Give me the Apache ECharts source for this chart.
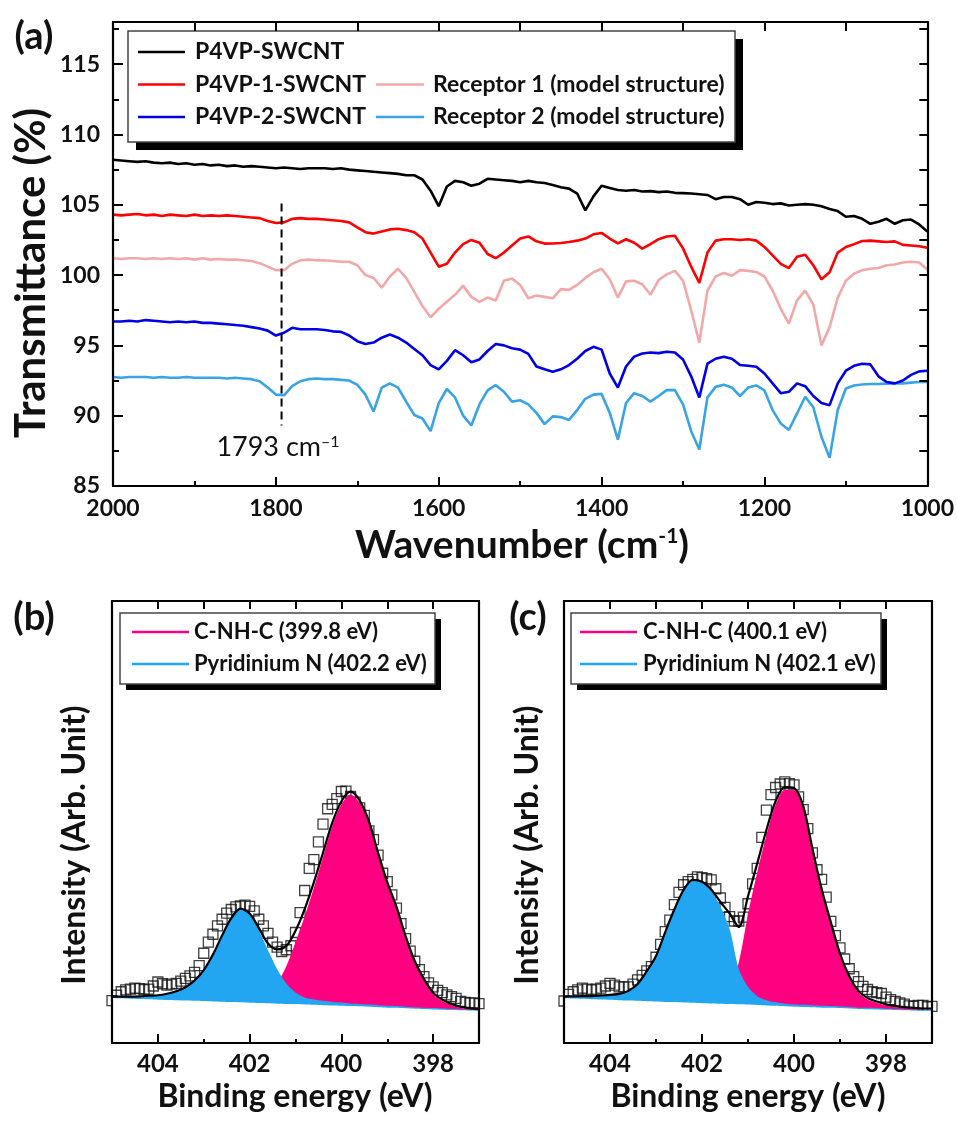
<!DOCTYPE html>
<html>
<head>
<meta charset="utf-8">
<script src="https://cdn.jsdelivr.net/npm/echarts@6.0.0/dist/echarts.min.js"></script>
<style>
  html, body { margin: 0; padding: 0; background: #fff; }
  #chart { width: 957px; height: 1121px; }
</style>
</head>
<body>
<div id="chart"></div>
<script>
// ---- (a) FTIR spectra, every 10 cm-1 ----
const wavenumber = [
  2000,1990,1980,1970,1960,1950,1940,1930,1920,1910,
  1900,1890,1880,1870,1860,1850,1840,1830,1820,1810,
  1800,1790,1780,1770,1760,1750,1740,1730,1720,1710,
  1700,1690,1680,1670,1660,1650,1640,1630,1620,1610,
  1600,1590,1580,1570,1560,1550,1540,1530,1520,1510,
  1500,1490,1480,1470,1460,1450,1440,1430,1420,1410,
  1400,1390,1380,1370,1360,1350,1340,1330,1320,1310,
  1300,1290,1280,1270,1260,1250,1240,1230,1220,1210,
  1200,1190,1180,1170,1160,1150,1140,1130,1120,1110,
  1100,1090,1080,1070,1060,1050,1040,1030,1020,1010,
  1000
];
const p4vp = [
  108.2,108.15,108.1,108.05,108.1,108.0,107.95,108.0,107.9,107.95,
  107.85,107.9,107.8,107.85,107.75,107.8,107.7,107.75,107.7,107.65,
  107.6,107.65,107.6,107.55,107.6,107.6,107.6,107.55,107.6,107.5,
  107.45,107.4,107.35,107.3,107.25,107.2,107.1,107.1,106.8,106.0,
  104.9,106.3,106.7,106.6,106.35,106.5,106.85,106.8,106.75,106.7,
  106.6,106.7,106.6,106.55,106.4,106.25,106.15,105.8,104.6,105.6,
  106.35,106.2,106.05,106.0,106.05,105.95,105.97,105.9,105.95,105.85,
  105.83,105.8,105.75,105.7,105.4,105.55,105.55,105.4,105.0,105.2,
  105.15,105.05,105.1,104.95,105.0,105.05,105.0,104.9,104.7,104.55,
  104.15,104.2,104.0,103.65,103.8,104.0,103.65,103.9,103.95,103.6,
  103.1
];
const p4vp1 = [
  104.3,104.25,104.3,104.35,104.25,104.3,104.2,104.3,104.25,104.2,
  104.3,104.2,104.25,104.2,104.25,104.2,104.15,104.1,104.05,103.85,
  103.7,103.75,104.0,104.05,104.0,104.0,103.95,103.9,103.85,103.75,
  103.4,103.05,102.95,103.1,103.25,103.3,103.2,103.05,102.6,101.6,
  100.6,100.8,101.6,102.2,102.5,102.3,101.5,101.2,101.6,102.1,
  102.6,102.75,102.4,102.24,102.25,102.28,102.35,102.45,102.6,102.9,
  103.0,102.6,102.25,102.55,102.3,101.88,102.2,102.55,102.75,102.8,
  101.9,100.6,99.45,101.6,102.45,102.55,102.55,102.5,102.55,102.45,
  102.0,101.4,100.8,100.5,101.3,101.45,100.7,99.7,100.2,101.6,
  102.0,102.2,102.42,102.45,102.4,102.35,102.4,102.15,102.1,102.05,
  101.95
];
const receptor1 = [
  101.2,101.15,101.2,101.2,101.15,101.2,101.15,101.2,101.15,101.2,
  101.1,101.2,101.1,101.15,101.1,101.1,101.05,101.0,100.85,100.6,
  100.35,100.35,100.8,101.05,101.1,101.05,101.05,101.0,100.95,100.95,
  100.7,100.0,99.8,99.1,99.9,100.45,99.8,98.8,97.8,97.0,
  97.6,98.1,98.6,99.25,98.45,98.1,98.4,98.2,99.6,99.75,
  99.3,98.35,98.55,98.45,98.35,99.0,98.95,99.3,99.8,100.2,
  100.45,99.7,98.4,99.55,99.6,99.35,98.6,99.65,100.05,100.3,
  99.6,97.5,95.2,98.9,99.9,100.15,99.95,100.35,100.3,100.22,
  99.9,98.9,97.6,96.55,98.2,98.9,97.9,95.0,96.3,98.4,
  99.6,100.1,100.35,100.45,100.5,100.7,100.75,100.9,100.95,100.9,
  100.4
];
const p4vp2 = [
  96.7,96.7,96.75,96.7,96.8,96.75,96.7,96.65,96.7,96.65,
  96.7,96.6,96.6,96.55,96.5,96.45,96.4,96.3,96.2,96.05,
  95.7,95.9,96.25,96.15,96.15,96.15,96.1,96.0,95.96,95.7,
  95.3,95.1,95.2,95.55,95.77,95.55,95.2,94.75,94.3,93.6,
  93.3,93.9,94.66,94.3,93.8,94.0,94.6,95.1,95.0,94.8,
  94.7,94.4,93.5,93.3,93.12,93.3,93.6,94.05,94.6,94.9,
  94.7,93.0,92.0,93.5,94.2,94.42,94.5,94.45,94.55,94.5,
  94.0,92.8,91.3,93.7,94.05,94.2,94.05,93.6,93.55,93.48,
  93.0,92.3,91.6,91.7,92.3,92.1,91.4,90.9,90.75,92.3,
  93.2,93.55,93.7,93.65,92.8,92.4,92.3,92.5,92.9,93.15,
  93.2
];
const receptor2 = [
  92.75,92.7,92.75,92.75,92.75,92.7,92.75,92.7,92.7,92.75,
  92.7,92.7,92.7,92.7,92.65,92.7,92.65,92.6,92.45,92.0,
  91.5,91.45,92.1,92.45,92.6,92.65,92.6,92.6,92.55,92.5,
  92.2,91.5,90.3,92.0,92.3,92.0,91.0,90.05,89.8,88.9,
  90.9,91.9,91.3,90.0,89.3,90.8,91.8,92.17,91.7,91.0,
  91.1,90.8,90.2,89.4,89.95,89.9,89.7,90.4,91.2,91.5,
  91.55,90.2,88.3,90.9,91.6,91.4,91.0,91.4,91.82,91.82,
  90.8,88.9,87.6,91.3,92.05,92.2,92.0,91.4,92.0,92.15,
  91.8,90.4,89.45,88.98,90.16,91.35,90.6,88.5,87.0,90.4,
  91.94,92.15,92.22,92.25,92.25,92.28,92.3,92.3,92.35,92.4,
  92.4
];
const markWavenumber = 1793;
const markRange = [105.1, 89.3];

// ---- (b), (c) XPS N1s, intensity in arbitrary units (0-100 of frame) ----
const fitEnergy = [
  405,404.8,404.6,404.4,404.2,404,403.8,403.6,403.4,403.2,
  403,402.8,402.6,402.4,402.2,402,401.8,401.6,401.4,401.2,
  401,400.8,400.6,400.4,400.2,400,399.8,399.6,399.4,399.2,
  399,398.8,398.6,398.4,398.2,398,397.8,397.6,397.4,397.2,
  397
];
const dataEnergy = [
  405,404.9,404.8,404.7,404.6,404.5,404.4,404.3,404.2,404.1,
  404,403.9,403.8,403.7,403.6,403.5,403.4,403.3,403.2,403.1,
  403,402.9,402.8,402.7,402.6,402.5,402.4,402.3,402.2,402.1,
  402,401.9,401.8,401.7,401.6,401.5,401.4,401.3,401.2,401.1,
  401,400.9,400.8,400.7,400.6,400.5,400.4,400.3,400.2,400.1,
  400,399.9,399.8,399.7,399.6,399.5,399.4,399.3,399.2,399.1,
  399,398.9,398.8,398.7,398.6,398.5,398.4,398.3,398.2,398.1,
  398,397.9,397.8,397.7,397.6,397.5,397.4,397.3,397.2,397.1,
  397
];
const bBaseline = [
  10.2,10.1,10.0,9.95,9.9,9.8,9.75,9.7,9.6,9.55,
  9.5,9.4,9.35,9.25,9.2,9.1,9.05,9.0,8.9,8.85,
  8.8,8.7,8.65,8.55,8.5,8.45,8.35,8.3,8.2,8.1,
  8.0,7.95,7.85,7.75,7.7,7.6,7.55,7.45,7.4,7.35,
  7.3
];
const bPyridinium = [
  0.3,0.4,0.5,0.6,0.8,1.0,1.4,2.0,3.0,4.6,
  7.0,10.6,15.0,19.0,21.2,20.0,16.5,12.0,7.8,4.6,
  2.6,1.6,1.2,1.0,0.8,0.7,0.6,0.55,0.5,0.45,
  0.4,0.4,0.35,0.3,0.3,0.3,0.25,0.25,0.2,0.2,
  0.2
];
const bCNHC = [
  0,0,0,0,0,0,0,0,0,0,
  0,0,0,0,0,0.2,0.5,1.5,4.5,8.5,
  14.0,20.0,26.5,33.5,40.5,45.5,47.9,46.0,41.5,34.5,
  28.0,22.5,16.0,10.5,6.5,3.5,2.0,1.1,0.6,0.3,
  0.2
];
const bMeasured = [
  9.6,10.8,11.6,12.0,12.2,12.4,12.3,12.1,12.2,12.9,
  13.8,13.4,13.1,13.3,13.5,14.0,14.6,15.2,16.0,17.5,
  20.3,22.8,24.6,26.5,28.0,29.4,30.2,30.8,31.0,31.2,
  30.9,29.9,28.0,26.5,24.8,22.8,21.7,20.7,21.1,22.0,
  25.0,29.5,34.5,39.5,41.5,45.5,49.5,53.0,54.0,55.3,
  56.9,57.0,55.8,54.5,53.2,51.5,48.0,46.0,42.5,38.4,
  36.5,33.5,30.5,27.0,23.6,20.8,18.5,16.6,15.0,13.6,
  12.7,11.9,11.4,10.9,10.5,10.1,9.4,9.2,9.0,9.1,
  8.9
];
const cBaseline = [
  10.1,10.05,10.0,9.9,9.85,9.8,9.7,9.6,9.55,9.45,
  9.4,9.3,9.25,9.15,9.1,9.0,8.95,8.9,8.8,8.75,
  8.7,8.6,8.5,8.4,8.3,8.2,8.15,8.1,8.0,7.95,
  7.9,7.8,7.7,7.65,7.6,7.5,7.45,7.4,7.35,7.3,
  7.3
];
const cPyridinium = [
  0.4,0.5,0.6,0.7,0.9,1.1,1.4,2.2,3.8,6.8,
  10.3,15.8,21.0,25.5,27.8,27.5,25.5,22.0,17.0,8.0,
  4.0,2.0,1.2,0.8,0.6,0.5,0.5,0.45,0.4,0.4,
  0.35,0.35,0.3,0.3,0.3,0.25,0.25,0.2,0.2,0.2,
  0.2
];
const cCNHC = [
  0,0,0,0,0,0,0,0,0,0,
  0,0,0,0,0,0,0.3,1.0,3.5,9.5,
  20.5,30.0,38.5,45.5,49.0,49.0,45.0,35.5,26.5,19.0,
  12.0,7.0,3.8,2.2,1.5,1.0,0.7,0.5,0.4,0.3,
  0.3
];
const cMeasured = [
  9.5,11.0,11.6,12.0,12.4,12.2,12.0,12.2,12.4,12.9,
  13.5,13.1,12.7,12.7,12.7,13.3,14.3,15.3,16.3,17.3,
  19.4,22.3,25.2,27.8,31.3,34.1,35.8,36.5,37.0,37.6,
  37.4,37.2,36.9,34.9,32.8,30.7,28.6,27.6,27.6,28.5,
  31.5,36.0,39.5,46.5,52.7,56.2,57.8,58.6,59.1,58.7,
  58.4,55.7,52.8,48.5,43.0,39.2,37.0,33.0,27.5,24.3,
  21.5,19.0,16.8,15.0,13.9,12.8,12.1,11.6,11.4,11.2,
  10.4,9.8,9.4,9.1,8.8,8.4,8.3,8.5,8.5,8.2,
  8.3
];
const xpsMajorTicks = [398, 400, 402, 404];

// ---- styling ----
const FONT = 'Lato';
const PINK = '#ff0080';
const SKY = '#22a6f2';
const ftirColors = {
  'P4VP-SWCNT': '#000000',
  'P4VP-1-SWCNT': '#ff0000',
  'P4VP-2-SWCNT': '#0000e6',
  'Receptor 1 (model structure)': '#f2a8a8',
  'Receptor 2 (model structure)': '#38a4e6'
};

const pairs = (xs, ys) => xs.map((x, i) => [x, ys[i]]);
const addArr = (...arrs) => arrs[0].map((_, i) => arrs.reduce((s, a) => s + a[i], 0));

const frame = { show: true, onZero: false, lineStyle: { color: '#000', width: 2.2 } };
const tickStyle = { color: '#000', width: 2 };
const labelStyle = (size) => ({ fontFamily: FONT, fontWeight: 'bold', fontSize: size, color: '#111', formatter: (v) => String(v) });

function plainAxis(extra) {
  return Object.assign({
    type: 'value', z: 10, splitLine: { show: false },
    axisLine: frame, axisLabel: { show: false }, axisTick: { show: false }
  }, extra);
}

const xAxis = [
  // (a)
  plainAxis({ gridIndex: 0, position: 'bottom', min: 1000, max: 2000, interval: 200, inverse: true,
    axisTick: { show: true, inside: true, length: 9, lineStyle: tickStyle },
    minorTick: { show: true, splitNumber: 2, length: 5, lineStyle: tickStyle },
    axisLabel: Object.assign({ show: true, margin: 11 }, labelStyle(23)) }),
  plainAxis({ gridIndex: 0, position: 'top', min: 1000, max: 2000, interval: 100, inverse: true,
    axisTick: { show: true, inside: true, length: 9, lineStyle: tickStyle } }),
  // (b)
  plainAxis({ gridIndex: 1, position: 'bottom', min: 397, max: 405, interval: 1, inverse: true,
    axisTick: { show: true, inside: true, length: 9, lineStyle: tickStyle, customValues: xpsMajorTicks },
    axisLabel: Object.assign({ show: true, margin: 9, customValues: xpsMajorTicks }, labelStyle(24)) }),
  plainAxis({ gridIndex: 1, position: 'bottom', min: 397, max: 405, interval: 1, inverse: true,
    axisLine: { show: false },
    axisTick: { show: true, inside: true, length: 4, lineStyle: tickStyle } }),
  plainAxis({ gridIndex: 1, position: 'top', min: 397, max: 405, interval: 1, inverse: true,
    axisTick: { show: true, inside: true, length: 8, lineStyle: tickStyle } }),
  // (c)
  plainAxis({ gridIndex: 2, position: 'bottom', min: 397, max: 405, interval: 1, inverse: true,
    axisTick: { show: true, inside: true, length: 9, lineStyle: tickStyle, customValues: xpsMajorTicks },
    axisLabel: Object.assign({ show: true, margin: 9, customValues: xpsMajorTicks }, labelStyle(24)) }),
  plainAxis({ gridIndex: 2, position: 'bottom', min: 397, max: 405, interval: 1, inverse: true,
    axisLine: { show: false },
    axisTick: { show: true, inside: true, length: 4, lineStyle: tickStyle } }),
  plainAxis({ gridIndex: 2, position: 'top', min: 397, max: 405, interval: 1, inverse: true,
    axisTick: { show: true, inside: true, length: 8, lineStyle: tickStyle } })
];

const yAxis = [
  plainAxis({ gridIndex: 0, position: 'left', min: 85, max: 118, interval: 5,
    axisTick: { show: true, inside: true, length: 10, lineStyle: tickStyle },
    axisLabel: Object.assign({ show: true, margin: 13, showMaxLabel: false }, labelStyle(23)) }),
  plainAxis({ gridIndex: 0, position: 'left', min: 85, max: 118, interval: 2.5,
    axisLine: { show: false },
    axisTick: { show: true, inside: true, length: 6, lineStyle: tickStyle } }),
  plainAxis({ gridIndex: 0, position: 'right', min: 85, max: 118, interval: 2.5,
    axisTick: { show: true, inside: true, length: 8, lineStyle: tickStyle } }),
  plainAxis({ gridIndex: 1, position: 'left', min: 0, max: 100 }),
  plainAxis({ gridIndex: 1, position: 'right', min: 0, max: 100 }),
  plainAxis({ gridIndex: 2, position: 'left', min: 0, max: 100 }),
  plainAxis({ gridIndex: 2, position: 'right', min: 0, max: 100 })
];

function ftirLine(name, values) {
  return {
    name, type: 'line', xAxisIndex: 0, yAxisIndex: 0,
    data: pairs(wavenumber, values), symbol: 'none', silent: true,
    color: ftirColors[name], lineStyle: { width: 2.6, color: ftirColors[name] }
  };
}

function xpsSeries(xi, yi, measured, base, blue, pink, pinkName, blueName) {
  const fill = (name, vals, color) => ({
    name, type: 'line', xAxisIndex: xi, yAxisIndex: yi, silent: true,
    data: pairs(fitEnergy, vals), smooth: 0.3, symbol: 'none', color,
    lineStyle: { width: 0, color }, areaStyle: { color, opacity: 1, origin: 'start' }, z: 3
  });
  return [
    { type: 'scatter', xAxisIndex: xi, yAxisIndex: yi, silent: true,
      data: pairs(dataEnergy, measured), symbol: 'rect', symbolSize: 10,
      itemStyle: { color: 'rgba(255,255,255,0)', borderColor: '#111', borderWidth: 1.3 }, z: 2 },
    fill(pinkName, addArr(base, pink), PINK),
    fill(blueName, addArr(base, blue), SKY),
    fill('baseline', base, '#ffffff'),
    { type: 'line', xAxisIndex: xi, yAxisIndex: yi, silent: true,
      data: pairs(fitEnergy, addArr(base, blue, pink)), smooth: 0.3, symbol: 'none',
      lineStyle: { color: '#000', width: 2.2 }, z: 4 }
  ];
}

const series = [
  ftirLine('Receptor 2 (model structure)', receptor2),
  ftirLine('Receptor 1 (model structure)', receptor1),
  ftirLine('P4VP-2-SWCNT', p4vp2),
  ftirLine('P4VP-1-SWCNT', p4vp1),
  ftirLine('P4VP-SWCNT', p4vp),
  { type: 'line', xAxisIndex: 0, yAxisIndex: 0, silent: true, symbol: 'none',
    data: markRange.map(v => [markWavenumber, v]),
    lineStyle: { color: '#000', width: 2, type: [8, 5] } },
  ...xpsSeries(2, 3, bMeasured, bBaseline, bPyridinium, bCNHC, 'C-NH-C (399.8 eV)', 'Pyridinium N (402.2 eV)'),
  ...xpsSeries(5, 5, cMeasured, cBaseline, cPyridinium, cCNHC, 'C-NH-C (400.1 eV)', 'Pyridinium N (402.1 eV)')
];

function legendAt(left, top, names, width, size, rowH, gapText) {
  return {
    data: names, orient: 'vertical', left, top, padding: 0,
    itemWidth: width, itemHeight: 2.5, itemGap: rowH - (size + 4), icon: 'rect', selectedMode: false,
    textStyle: { fontFamily: FONT, fontWeight: 'bold', fontSize: size, color: '#111',
      lineHeight: size + 4, padding: [0, 0, 0, gapText] }
  };
}

function boxWithShadow(x, y, w, h, off) {
  return [
    { type: 'rect', z: 1, shape: { x: x + off, y: y + off, width: w, height: h }, style: { fill: '#000' } },
    { type: 'rect', z: 2, shape: { x, y, width: w, height: h }, style: { fill: '#fff', stroke: '#444', lineWidth: 1.5 } }
  ];
}

function label(text, x, y, size, opts) {
  return Object.assign({
    type: 'text', x, y, z: 20,
    style: { text, fontFamily: FONT, fontWeight: 'bold', fontSize: size, fill: '#111', align: 'center', verticalAlign: 'middle' }
  }, opts || {});
}

const graphic = [
  ...boxWithShadow(128, 31, 607, 111, 8),
  ...boxWithShadow(120, 613, 315, 71, 6),
  ...boxWithShadow(571, 613, 310, 71, 6),
  label('(a)', 34, 37, 38),
  label('(b)', 34, 618, 38),
  label('(c)', 528, 618, 38),
  label('Transmittance (%)', 31, 273, 42, { rotation: Math.PI / 2 }),
  {
    type: 'text', x: 522, y: 545, z: 20,
    style: {
      text: '{t|Wavenumber (cm}{s|-1}{t|)}', align: 'center', verticalAlign: 'middle',
      rich: {
        t: { fontFamily: FONT, fontWeight: 'bold', fontSize: 39, fill: '#111' },
        s: { fontFamily: FONT, fontWeight: 'bold', fontSize: 21, fill: '#111', verticalAlign: 'top' }
      }
    }
  },
  {
    type: 'text', x: 278, y: 447, z: 20,
    style: {
      text: '{t|1793 cm}{s|\u20131}', align: 'center', verticalAlign: 'middle',
      rich: {
        t: { fontFamily: FONT, fontSize: 27, fill: '#111' },
        s: { fontFamily: FONT, fontSize: 16, fill: '#111', verticalAlign: 'top' }
      }
    }
  },
  label('Intensity (Arb. Unit)', 75, 845, 32, { rotation: Math.PI / 2 }),
  label('Intensity (Arb. Unit)', 528, 845, 32, { rotation: Math.PI / 2 }),
  label('Binding energy (eV)', 295, 1097, 32),
  label('Binding energy (eV)', 748, 1097, 32)
];

const chart = echarts.init(document.getElementById('chart'));
chart.setOption({
  animation: false,
  backgroundColor: '#fff',
  grid: [
    { left: 113, top: 22, width: 817, height: 464 },
    { left: 112, top: 601, width: 367, height: 442 },
    { left: 564, top: 601, width: 368, height: 442 }
  ],
  xAxis, yAxis, series, graphic,
  legend: [
    legendAt(138, 38.5, ['P4VP-SWCNT', 'P4VP-1-SWCNT', 'P4VP-2-SWCNT'], 47, 23, 32.5, 5),
    legendAt(376, 71, ['Receptor 1 (model structure)', 'Receptor 2 (model structure)'], 48, 23, 32.5, 4),
    legendAt(132, 619, ['C-NH-C (399.8 eV)', 'Pyridinium N (402.2 eV)'], 57, 22, 32, 0),
    legendAt(580, 619, ['C-NH-C (400.1 eV)', 'Pyridinium N (402.1 eV)'], 57, 22, 32, 1)
  ]
});
</script>
</body>
</html>
